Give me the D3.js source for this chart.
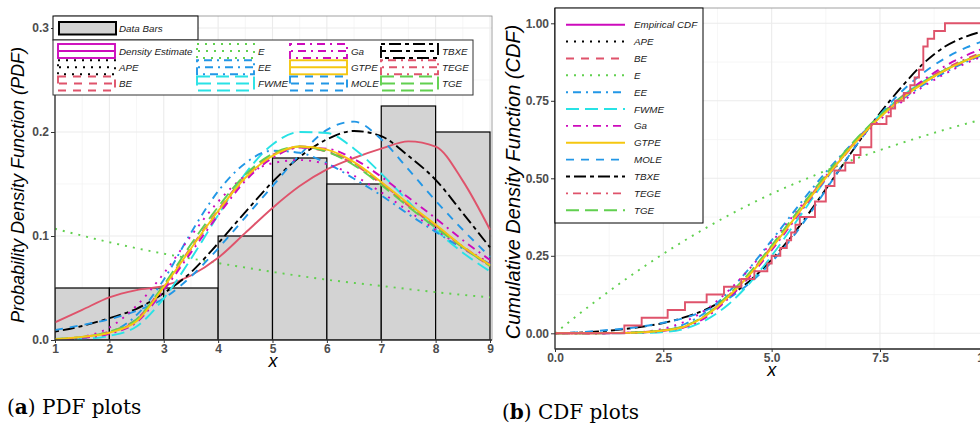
<!DOCTYPE html>
<html>
<head>
<meta charset="utf-8">
<script src="https://cdn.jsdelivr.net/npm/d3@7"></script>
<style>
  body { margin: 0; background: #fff; }
  svg { display: block; font-family: "Liberation Sans", Arial, Helvetica, sans-serif; }
  .tick line { stroke: #333; }
  .leg { font-size: 9.8px; font-style: italic; fill: #1a1a1a; }
  .title { font-style: italic; fill: #000; }
  .cap { font-family: "DejaVu Serif", "Liberation Serif", serif; font-size: 20px; fill: #000; }
</style>
</head>
<body>
<script>

// histogram of the data (density scale)
var binEdges = [1, 2, 3, 4, 5, 6, 7, 8, 9];
var binDensity = [0.05, 0.05, 0.05, 0.1, 0.175, 0.15, 0.225, 0.2];

// pdf curves, read at these x values
var pdfX = [1, 1.5, 2, 2.5, 3, 3.5, 4, 4.5, 5, 5.5, 6, 6.5, 7, 7.5, 8, 8.5, 9];
var pdfKDE  = [0.017, 0.029, 0.041, 0.048, 0.052, 0.062, 0.079, 0.103, 0.127, 0.148, 0.164, 0.175, 0.184, 0.191, 0.186, 0.153, 0.106];
var pdfAPE  = [0.0005, 0.003, 0.012, 0.033, 0.064, 0.1, 0.133, 0.158, 0.17, 0.173, 0.169, 0.158, 0.142, 0.124, 0.106, 0.089, 0.074];
var pdfBE   = [0.0007, 0.003, 0.008, 0.02, 0.052, 0.089, 0.125, 0.157, 0.178, 0.185, 0.181, 0.169, 0.15, 0.129, 0.109, 0.089, 0.071];
var pdfEE   = [0.0003, 0.002, 0.007, 0.024, 0.058, 0.103, 0.143, 0.17, 0.182, 0.18, 0.17, 0.155, 0.139, 0.121, 0.104, 0.088, 0.073];
var pdfFWME = [0.0002, 0.001, 0.004, 0.013, 0.04, 0.078, 0.12, 0.16, 0.188, 0.2, 0.199, 0.184, 0.16, 0.133, 0.106, 0.084, 0.066];
var pdfGa   = [0.0005, 0.002, 0.006, 0.017, 0.048, 0.084, 0.12, 0.153, 0.175, 0.185, 0.184, 0.174, 0.157, 0.137, 0.117, 0.096, 0.077];
var pdfGTPE = [0.0008, 0.003, 0.007, 0.018, 0.051, 0.088, 0.124, 0.156, 0.177, 0.186, 0.183, 0.171, 0.152, 0.131, 0.111, 0.09, 0.072];
var pdfMOLE = [0.0096, 0.0144, 0.02, 0.028, 0.04, 0.061, 0.088, 0.118, 0.148, 0.178, 0.202, 0.21, 0.193, 0.164, 0.134, 0.106, 0.08];
var pdfTBXE = [0.008, 0.0135, 0.021, 0.03, 0.045, 0.065, 0.093, 0.123, 0.152, 0.176, 0.193, 0.201, 0.196, 0.177, 0.154, 0.122, 0.089];
var pdfTEGE = [0.0006, 0.0025, 0.007, 0.019, 0.05, 0.087, 0.123, 0.155, 0.177, 0.186, 0.182, 0.17, 0.151, 0.13, 0.11, 0.09, 0.072];
var pdfTGE  = [0.001, 0.003, 0.008, 0.02, 0.053, 0.092, 0.128, 0.159, 0.179, 0.186, 0.181, 0.168, 0.149, 0.128, 0.108, 0.089, 0.071];
var pdfXE = [1, 2, 3, 4, 5, 6, 7, 8, 9];
var pdfE  = [0.107, 0.094, 0.083, 0.074, 0.0655, 0.058, 0.052, 0.046, 0.041];

// cdf curves, read at these x values
var cdfX = [0, 0.5, 1, 1.5, 2, 2.5, 3, 3.5, 4, 4.5, 5, 5.5, 6, 6.5, 7, 7.5, 8, 8.5, 9, 9.5, 10];
var cdfAPE  = [0, 0, 0.0002, 0.001, 0.004, 0.015, 0.038, 0.078, 0.137, 0.21, 0.294, 0.38, 0.466, 0.547, 0.622, 0.689, 0.746, 0.796, 0.837, 0.872, 0.9];
var cdfBE   = [0, 0, 0.0004, 0.0015, 0.004, 0.01, 0.023, 0.06, 0.121, 0.194, 0.28, 0.371, 0.462, 0.549, 0.629, 0.699, 0.758, 0.807, 0.847, 0.879, 0.905];
var cdfEE   = [0, 0, 0.0001, 0.0008, 0.003, 0.01, 0.03, 0.07, 0.133, 0.212, 0.3, 0.39, 0.478, 0.559, 0.632, 0.697, 0.753, 0.801, 0.842, 0.876, 0.905];
var cdfFWME = [0, 0, 0, 0.0003, 0.001, 0.004, 0.015, 0.044, 0.093, 0.163, 0.25, 0.347, 0.447, 0.543, 0.63, 0.704, 0.764, 0.812, 0.85, 0.88, 0.905];
var cdfGa   = [0, 0, 0.0002, 0.001, 0.003, 0.008, 0.02, 0.053, 0.112, 0.184, 0.268, 0.36, 0.453, 0.543, 0.625, 0.699, 0.763, 0.817, 0.862, 0.897, 0.925];
var cdfGTPE = [0, 0, 0.0003, 0.001, 0.003, 0.009, 0.022, 0.058, 0.118, 0.19, 0.275, 0.366, 0.457, 0.545, 0.626, 0.697, 0.757, 0.807, 0.848, 0.881, 0.908];
var cdfMOLE = [0, 0.003, 0.008, 0.014, 0.022, 0.034, 0.05, 0.075, 0.112, 0.163, 0.23, 0.313, 0.41, 0.515, 0.615, 0.705, 0.78, 0.84, 0.887, 0.922, 0.948];
var cdfTBXE = [0, 0.002, 0.006, 0.012, 0.021, 0.033, 0.052, 0.078, 0.118, 0.17, 0.238, 0.32, 0.415, 0.515, 0.615, 0.71, 0.795, 0.87, 0.925, 0.958, 0.978];
var cdfTEGE = [0, 0, 0.0003, 0.001, 0.003, 0.009, 0.021, 0.056, 0.116, 0.188, 0.273, 0.365, 0.457, 0.546, 0.628, 0.7, 0.761, 0.812, 0.853, 0.886, 0.912];
var cdfTGE  = [0, 0, 0.0004, 0.0015, 0.004, 0.01, 0.024, 0.062, 0.124, 0.197, 0.283, 0.375, 0.467, 0.554, 0.634, 0.703, 0.762, 0.81, 0.85, 0.882, 0.908];
var cdfXE = [0, 1, 2, 3, 4, 5, 6, 7, 8, 9, 10];
var cdfE  = [0, 0.11, 0.21, 0.30, 0.38, 0.45, 0.51, 0.566, 0.614, 0.657, 0.695];

// empirical cdf: jump positions and level after each jump
var ecdfX = [0, 1.6, 2.0, 2.6, 3.0, 3.5, 3.9, 4.3, 4.6, 4.9, 5.0, 5.2, 5.35, 5.45, 5.55, 5.65, 6.0, 6.25, 6.45, 6.7, 6.9, 7.05, 7.3, 7.65, 7.75, 7.85, 8.05, 8.2, 8.3, 8.4, 8.5, 8.6, 8.75, 9.0, 10];
var ecdfY = [0, 0.025, 0.05, 0.075, 0.1, 0.125, 0.15, 0.175, 0.2, 0.225, 0.25, 0.275, 0.3, 0.325, 0.35, 0.375, 0.425, 0.475, 0.525, 0.55, 0.575, 0.6, 0.675, 0.7, 0.725, 0.75, 0.775, 0.8, 0.825, 0.85, 0.925, 0.95, 0.975, 1.0, 1.0];

// ticks
var pdfTicksX = [1, 2, 3, 4, 5, 6, 7, 8, 9];
var pdfTicksY = [0, 0.1, 0.2, 0.3];
var cdfTicksX = [0, 2.5, 5, 7.5, 10];
var cdfTicksY = [0, 0.25, 0.5, 0.75, 1];

// legend
var pdfLegend = ["Density Estimate", "APE", "BE", "E", "EE", "FWME", "Ga", "GTPE", "MOLE", "TBXE", "TEGE", "TGE"];
var cdfLegend = ["Empirical CDF", "APE", "BE", "E", "EE", "FWME", "Ga", "GTPE", "MOLE", "TBXE", "TEGE", "TGE"];

// colours and dash patterns (R palette / line types)
var col = {black: "#000000", red: "#DF536B", green: "#61D04F", blue: "#2297E6",
           cyan: "#28E2E5", magenta: "#CD0BBC", yellow: "#F5C710"};
var dash = {solid: null, dotted: "2,6", dashed: "8,7", dotdash: "2,5,8,5", longdash: "13,6", twodash: "4,4,12,4"};
var legendStyle = [
  [col.magenta, dash.solid], [col.black, dash.dotted], [col.red, dash.dashed], [col.green, dash.dotted],
  [col.blue, dash.dotdash], [col.cyan, dash.longdash], [col.magenta, dash.dotdash], [col.yellow, dash.solid],
  [col.blue, dash.dashed], [col.black, dash.twodash], [col.red, dash.dotdash], [col.green, dash.longdash]
];

var svg = d3.select("body").append("svg")
  .attr("width", 980)
  .attr("height", 425);

// ---------- left panel: pdf ----------
var boxL = {left: 55, right: 492, top: 16, bottom: 340};
var xPdf = d3.scaleLinear().domain([1, 9]).range([55, 490]);
var yPdf = d3.scaleLinear().domain([0, 0.3]).range([340, 28]);

// ---------- right panel: cdf ----------
var boxR = {left: 555, right: 988, top: 8, bottom: 349};
var xCdf = d3.scaleLinear().domain([0, 10]).range([555, 988.3]);
var yCdf = d3.scaleLinear().domain([0, 1]).range([333.3, 23.3]);

function half_steps(ticks) {
  var out = [];
  for (var i = 0; i < ticks.length - 1; i++) out.push((ticks[i] + ticks[i + 1]) / 2);
  return out;
}

function make_grid(x, y, box, tx, ty, extraTop) {
  var g = svg.append("g");
  var mx = half_steps(tx), my = half_steps(ty.concat(extraTop || []));
  g.selectAll(".vmin").data(mx).enter().append("line")
    .attr("x1", x).attr("x2", x).attr("y1", box.top).attr("y2", box.bottom)
    .attr("stroke", "#F2F2F2").attr("stroke-width", 0.7);
  g.selectAll(".hmin").data(my).enter().append("line")
    .attr("x1", box.left).attr("x2", box.right).attr("y1", y).attr("y2", y)
    .attr("stroke", "#F2F2F2").attr("stroke-width", 0.7);
  g.selectAll(".vmaj").data(tx).enter().append("line")
    .attr("x1", x).attr("x2", x).attr("y1", box.top).attr("y2", box.bottom)
    .attr("stroke", "#EBEBEB").attr("stroke-width", 1.1);
  g.selectAll(".hmaj").data(ty).enter().append("line")
    .attr("x1", box.left).attr("x2", box.right).attr("y1", y).attr("y2", y)
    .attr("stroke", "#EBEBEB").attr("stroke-width", 1.1);
  // panel border
  g.append("rect")
    .attr("x", box.left).attr("y", box.top)
    .attr("width", box.right - box.left).attr("height", box.bottom - box.top)
    .attr("fill", "none").attr("stroke", "#8a8a8a").attr("stroke-width", 0.8);
}

// bold grey tick labels like the ggplot theme
function style_ticks(g) {
  g.select(".domain").remove();
  g.selectAll(".tick text")
    .attr("font-family", "Liberation Sans, Arial, sans-serif")
    .attr("font-size", 12)
    .attr("font-weight", 700)
    .attr("fill", "#4D4D4D");
}

function make_axis(x, y, box, tx, ty, fx, fy) {
  svg.append("g")
    .attr("transform", "translate(" + box.left + ",0)")
    .call(d3.axisLeft(y).tickValues(ty).tickFormat(d3.format(fy))
      .tickSize(4).tickPadding(2).tickSizeOuter(0))
    .call(style_ticks);
  svg.append("g")
    .attr("transform", "translate(0," + box.bottom + ")")
    .call(d3.axisBottom(x).tickValues(tx).tickFormat(d3.format(fx))
      .tickSize(3).tickPadding(1).tickSizeOuter(0))
    .call(style_ticks);
  svg.append("line")
    .attr("x1", box.left).attr("x2", box.left).attr("y1", box.top).attr("y2", box.bottom + 0.5)
    .attr("stroke", "#333").attr("stroke-width", 1.2);
  svg.append("line")
    .attr("x1", box.left).attr("x2", box.right).attr("y1", box.bottom).attr("y2", box.bottom)
    .attr("stroke", "#333").attr("stroke-width", 1.6);
}

function make_clip(id, box) {
  svg.append("clipPath").attr("id", id).append("rect")
    .attr("x", box.left).attr("y", box.top)
    .attr("width", box.right - box.left).attr("height", box.bottom - box.top);
}

function draw_curve(g, xs, ys, x, y, color, dashArr, width) {
  var line = d3.line()
    .x(function(d) { return x(d[0]); })
    .y(function(d) { return y(d[1]); })
    .curve(d3.curveMonotoneX);
  g.append("path")
    .datum(xs.map(function(v, i) { return [v, ys[i]]; }))
    .attr("d", line)
    .attr("fill", "none")
    .attr("stroke", color)
    .attr("stroke-width", width || 1.9)
    .attr("stroke-dasharray", dashArr);
}

// left panel
make_grid(xPdf, yPdf, boxL, pdfTicksX, pdfTicksY);
make_clip("clipL", boxL);
var gL = svg.append("g").attr("clip-path", "url(#clipL)");

// bars
gL.selectAll(".bar")
  .data(binDensity)
  .enter()
  .append("rect")
  .attr("x", function(d, i) { return xPdf(binEdges[i]); })
  .attr("y", function(d) { return yPdf(d); })
  .attr("width", function(d, i) { return xPdf(binEdges[i + 1]) - xPdf(binEdges[i]); })
  .attr("height", function(d) { return yPdf(0) - yPdf(d); })
  .attr("fill", "#D3D3D3")
  .attr("stroke", "#000")
  .attr("stroke-width", 1.2);

var pdfCurves = [
  [pdfXE, pdfE, col.green, dash.dotted],
  [pdfX, pdfKDE, col.red, dash.solid],
  [pdfX, pdfTBXE, col.black, dash.twodash],
  [pdfX, pdfMOLE, col.blue, dash.dashed],
  [pdfX, pdfFWME, col.cyan, dash.longdash],
  [pdfX, pdfEE, col.blue, dash.dotdash],
  [pdfX, pdfAPE, col.magenta, dash.dotted],
  [pdfX, pdfBE, col.red, dash.dashed],
  [pdfX, pdfTEGE, col.red, dash.dotdash],
  [pdfX, pdfGa, col.magenta, dash.dotdash],
  [pdfX, pdfTGE, col.green, dash.longdash],
  [pdfX, pdfGTPE, col.yellow, dash.solid]
];
pdfCurves.forEach(function(c) { draw_curve(gL, c[0], c[1], xPdf, yPdf, c[2], c[3]); });

make_axis(xPdf, yPdf, boxL, pdfTicksX, pdfTicksY, "d", ".1f");

// right panel
make_grid(xCdf, yCdf, boxR, cdfTicksX, cdfTicksY, [1.25]);
make_clip("clipR", boxR);
var gR = svg.append("g").attr("clip-path", "url(#clipR)");

var cdfCurves = [
  [cdfXE, cdfE, col.green, dash.dotted],
  [cdfX, cdfTBXE, col.black, dash.twodash],
  [cdfX, cdfMOLE, col.blue, dash.dashed],
  [cdfX, cdfFWME, col.cyan, dash.longdash],
  [cdfX, cdfEE, col.blue, dash.dotdash],
  [cdfX, cdfAPE, col.magenta, dash.dotted],
  [cdfX, cdfBE, col.red, dash.dashed],
  [cdfX, cdfTEGE, col.red, dash.dotdash],
  [cdfX, cdfGa, col.magenta, dash.dotdash],
  [cdfX, cdfTGE, col.green, dash.longdash],
  [cdfX, cdfGTPE, col.yellow, dash.solid]
];
cdfCurves.forEach(function(c) { draw_curve(gR, c[0], c[1], xCdf, yCdf, c[2], c[3]); });

// empirical cdf as a step line
var step = d3.line()
  .x(function(d, i) { return xCdf(ecdfX[i]); })
  .y(function(d) { return yCdf(d); })
  .curve(d3.curveStepAfter);
gR.append("path")
  .attr("d", step(ecdfY))
  .attr("fill", "none")
  .attr("stroke", col.red)
  .attr("stroke-width", 1.9);

make_axis(xCdf, yCdf, boxR, cdfTicksX, cdfTicksY, ".1f", ".2f");

// ---------- legends ----------
function make_pdf_legend() {
  var g = svg.append("g");
  // data bars box
  g.append("rect").attr("x", 53).attr("y", 16).attr("width", 145).attr("height", 24)
    .attr("fill", "#fff").attr("stroke", "#000").attr("stroke-width", 1);
  g.append("rect").attr("x", 59).attr("y", 22).attr("width", 57).attr("height", 12.5)
    .attr("fill", "#D3D3D3").attr("stroke", "#000").attr("stroke-width", 2);
  g.append("text").attr("class", "leg").attr("x", 119).attr("y", 31.5).text("Data Bars");

  // curve legend
  g.append("rect").attr("x", 53).attr("y", 40).attr("width", 420).attr("height", 55)
    .attr("fill", "#fff").attr("stroke", "#333").attr("stroke-width", 1);
  var colX = [58, 197, 290, 381];
  var rowY = [51, 67.3, 83.5];
  pdfLegend.forEach(function(name, i) {
    var kx = colX[Math.floor(i / 3)], ky = rowY[i % 3];
    var s = legendStyle[i];
    g.append("rect").attr("x", kx).attr("y", ky - 7).attr("width", 57).attr("height", 14)
      .attr("fill", "none").attr("stroke", s[0]).attr("stroke-width", 1.9)
      .attr("stroke-dasharray", s[1]);
    g.append("line").attr("x1", kx + 1).attr("x2", kx + 56).attr("y1", ky).attr("y2", ky)
      .attr("stroke", s[0]).attr("stroke-width", 1.9).attr("stroke-dasharray", s[1]);
    g.append("text").attr("class", "leg").attr("x", kx + 61).attr("y", ky + 3.5).text(name);
  });
}

function make_cdf_legend() {
  var g = svg.append("g");
  g.append("rect").attr("x", 555).attr("y", 8).attr("width", 148).attr("height", 215)
    .attr("fill", "#fff").attr("stroke", "#000").attr("stroke-width", 1);
  cdfLegend.forEach(function(name, i) {
    var ky = 24.7 + i * 16.87;
    var s = legendStyle[i];
    g.append("line").attr("x1", 566).attr("x2", 625).attr("y1", ky).attr("y2", ky)
      .attr("stroke", s[0]).attr("stroke-width", 1.9).attr("stroke-dasharray", s[1]);
    g.append("text").attr("class", "leg").attr("x", 634).attr("y", ky + 3.5).text(name);
  });
}

make_pdf_legend();
make_cdf_legend();

// ---------- titles ----------
function make_titles() {
  svg.append("text").attr("class", "title")
    .attr("transform", "translate(24,185) rotate(-90)")
    .attr("text-anchor", "middle").style("font-size", "18px")
    .text("Probability Density Function (PDF)");
  svg.append("text").attr("class", "title")
    .attr("x", 273).attr("y", 367).attr("text-anchor", "middle").style("font-size", "18px")
    .text("x");
  svg.append("text").attr("class", "title")
    .attr("transform", "translate(520,182) rotate(-90)")
    .attr("text-anchor", "middle").style("font-size", "20px")
    .text("Cumulative Density Function (CDF)");
  svg.append("text").attr("class", "title")
    .attr("x", 771.7).attr("y", 376).attr("text-anchor", "middle").style("font-size", "18px")
    .text("x");

  // sub-figure captions
  var a = svg.append("text").attr("class", "cap").attr("x", 7).attr("y", 414);
  a.append("tspan").text("(");
  a.append("tspan").style("font-weight", "bold").text("a");
  a.append("tspan").text(") PDF plots");
  var b = svg.append("text").attr("class", "cap").attr("x", 502).attr("y", 419);
  b.append("tspan").text("(");
  b.append("tspan").style("font-weight", "bold").text("b");
  b.append("tspan").text(") CDF plots");
}

make_titles();

</script>
</body>
</html>
